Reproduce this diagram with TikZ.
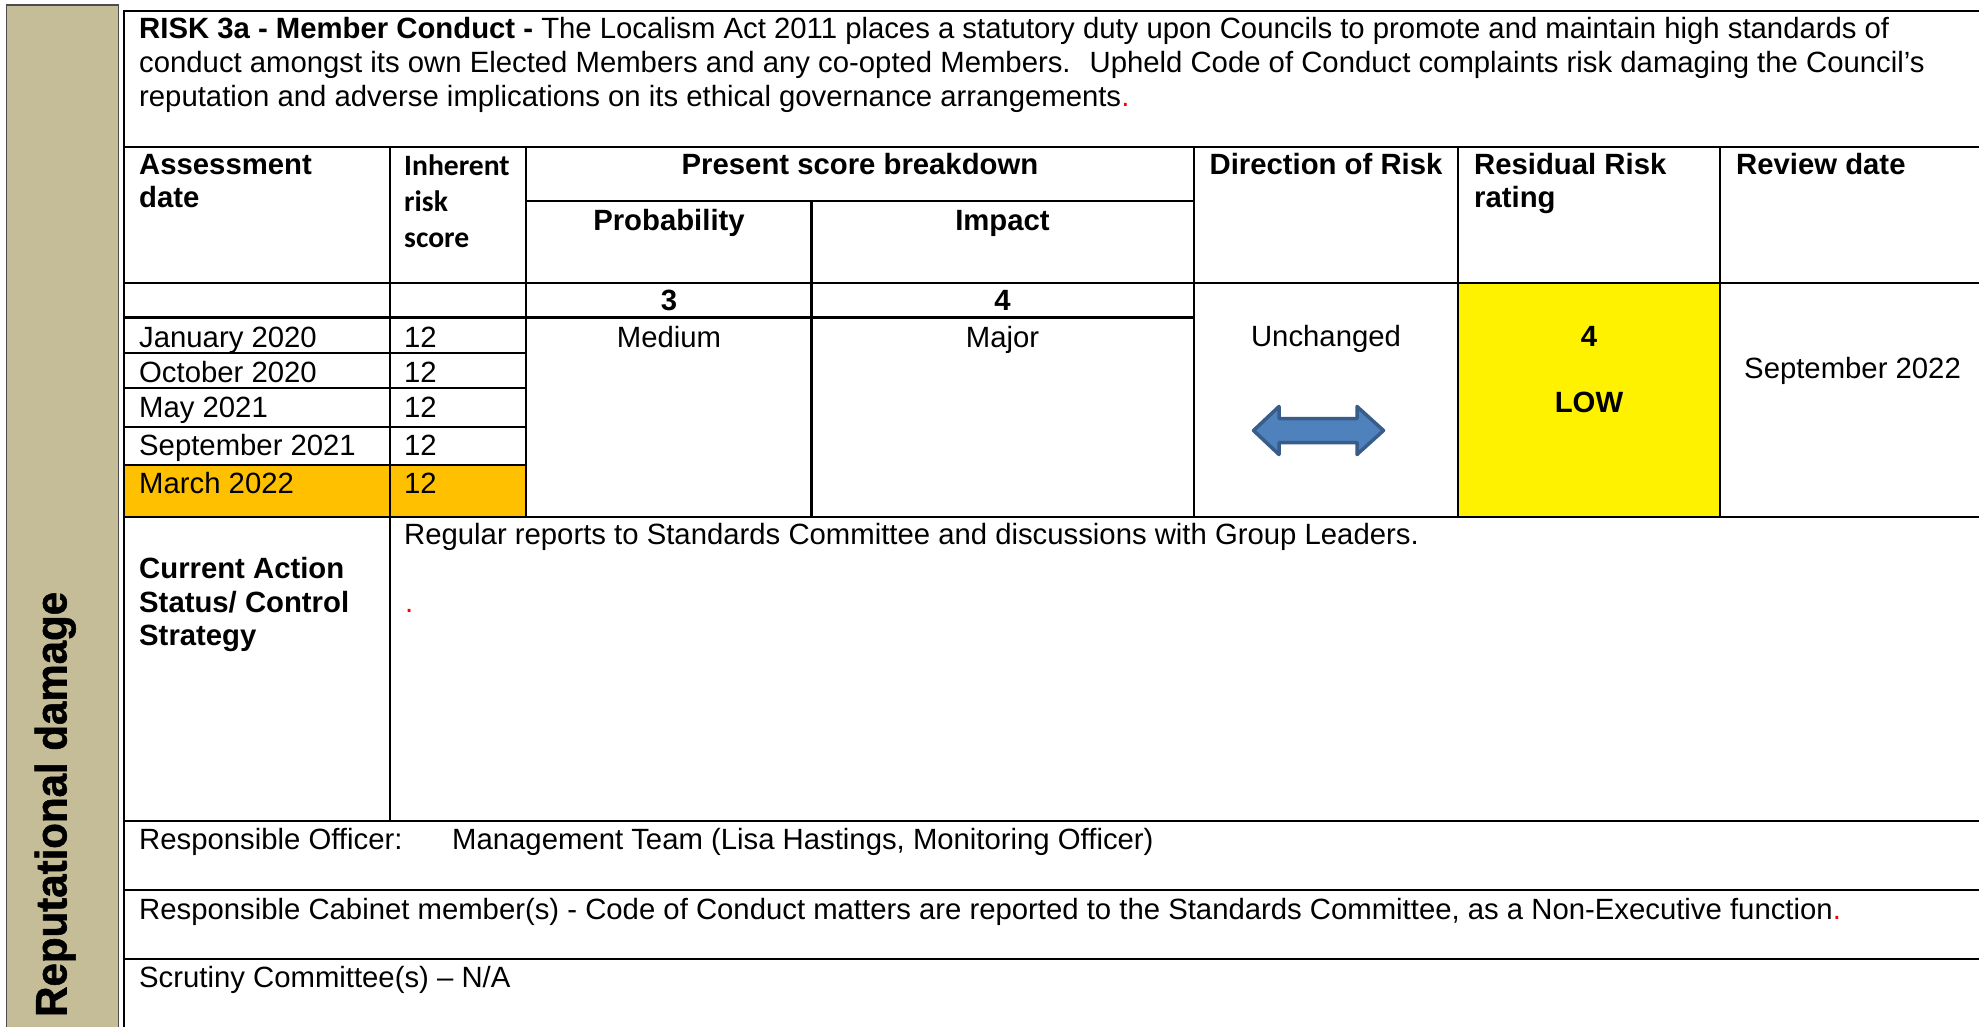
\documentclass[tikz,border=0pt]{standalone}
\usepackage{fontspec}
\setmainfont{Liberation Sans}
\newfontfamily\calib{Carlito}
\newfontfamily\sidefont[FakeBold=1.2]{Liberation Sans Bold}
\definecolor{beige}{HTML}{C4BD97}
\definecolor{orangecell}{HTML}{FFC000}
\definecolor{arrowfill}{HTML}{4F81BD}
\definecolor{arrowline}{HTML}{385D8A}
\definecolor{reddot}{HTML}{FF0000}
\newcommand{\bodysize}{\fontsize{29.3}{35}\selectfont}
\tikzset{
  txt/.style={inner sep=0pt, font=\bodysize},
  lt/.style={txt, anchor=base west},
  ct/.style={txt, anchor=base},
  bld/.style={font=\bfseries\bodysize},
  gridline/.style={line width=2.2pt, black},
  calibtxt/.style={inner sep=0pt, anchor=base west, font=\calib\bfseries\fontsize{29.6}{35}\selectfont},
}
\begin{document}
\begin{tikzpicture}[x=1pt,y=-1pt]
\clip (0,0) rectangle (1979,1026);
\fill[white] (0,0) rectangle (1979,1026);
% side band
\draw[fill=beige, draw=black!70, line width=1.5pt] (6.7,5) rectangle (118.5,1040);
\node[rotate=90, anchor=base west, inner sep=0pt, font=\sidefont\fontsize{44}{48}\selectfont] (side) at (66.5,1017) {\scalebox{0.955}[1]{Reputational damage}};
% cell fills
\fill[orangecell] (124,465) rectangle (526,517);
\fill[yellow] (1458,283) rectangle (1720,517);
% grid
\draw[gridline] (124,1040) -- (124,11) -- (2000,11);
\draw[gridline] (124,147) -- (2000,147);
\draw[gridline] (526,201) -- (1194,201);
\draw[gridline] (124,283) -- (2000,283);
\draw[gridline] (124,317.5) -- (1194,317.5);
\foreach \yy in {353,388,427,465} \draw[gridline] (124,\yy) -- (526,\yy);
\draw[gridline] (124,517) -- (2000,517);
\draw[gridline] (124,821) -- (2000,821);
\draw[gridline] (124,890) -- (2000,890);
\draw[gridline] (124,959) -- (2000,959);
\draw[gridline] (390,147) -- (390,821);
\draw[gridline] (526,147) -- (526,517);
\draw[gridline] (811.5,201) -- (811.5,517);
\draw[gridline] (1194,147) -- (1194,517);
\draw[gridline] (1458,147) -- (1458,517);
\draw[gridline] (1720,147) -- (1720,517);
% title
\node[lt] (t1) at (139,38) {\textbf{RISK 3a - Member Conduct -} The Localism Act 2011 places a statutory duty upon Councils to promote and maintain high standards of};
\node[lt] (t2) at (139,72) {conduct amongst its own Elected Members and any co-opted Members.~ Upheld Code of Conduct complaints risk damaging the Council’s};
\node[lt] (t3) at (139,106) {reputation and adverse implications on its ethical governance arrangements{\color{reddot}.}};
% header
\node[lt, bld] (h1a) at (139,174) {Assessment};
\node[lt, bld] (h1b) at (139,207) {date};
\node[calibtxt] (h2a) at (404,175) {Inherent};
\node[calibtxt] (h2b) at (404,211) {risk};
\node[calibtxt] (h2c) at (404,247) {score};
\node[ct, bld] (h3) at (860,174) {Present score breakdown};
\node[ct, bld] (h3a) at (669,230) {Probability};
\node[ct, bld] (h3b) at (1002.5,230) {Impact};
\node[ct, bld] (h4) at (1326,174) {Direction of Risk};
\node[lt, bld] (h5a) at (1474,174) {Residual Risk};
\node[lt, bld] (h5b) at (1474,207) {rating};
\node[lt, bld] (h6) at (1736,174) {Review date};
% score row
\node[ct, bld] (s3) at (669,310) {3};
\node[ct, bld] (s4) at (1002.5,310) {4};
% data rows
\node[lt] (d1) at (139,347) {January 2020};
\node[lt] (d2) at (139,382) {October 2020};
\node[lt] (d3) at (139,417) {May 2021};
\node[lt] (d4) at (139,455.5) {September 2021};
\node[lt] (d5) at (139,493.5) {March 2022};
\node[lt] (r1) at (404,347) {12};
\node[lt] (r2) at (404,382) {12};
\node[lt] (r3) at (404,417) {12};
\node[lt] (r4) at (404,455.5) {12};
\node[lt] (r5) at (404,493.5) {12};
\node[ct] (med) at (669,347) {Medium};
\node[ct] (maj) at (1002.5,347) {Major};
\node[ct] (unch) at (1326,346) {Unchanged};
\node[ct, bld] (res4) at (1589,346) {4};
\node[ct, bld] (low) at (1589,412.5) {LOW};
\node[lt] (rev) at (1744,378.5) {September 2022};
% arrow
\draw[fill=arrowfill, draw=arrowline, line width=3.5pt, line join=round]
  (1253.5,430.5) -- (1279,406.5) -- (1279,418.5) -- (1357,418.5) -- (1357,406.5)
  -- (1383.5,430.5) -- (1357,454.5) -- (1357,442.5) -- (1279,442.5) -- (1279,454.5) -- cycle;
% current action
\node[lt, bld] (ca1) at (139,578) {Current Action};
\node[lt, bld] (ca2) at (139,612) {Status/ Control};
\node[lt, bld] (ca3) at (139,645) {Strategy};
\node[lt] (reg) at (404,544) {Regular reports to Standards Committee and discussions with Group Leaders.};
\node[lt, text=reddot] (dot) at (405,612) {.};
% bottom rows
\node[lt] (ro) at (139,849) {Responsible Officer:};
\node[lt] (mt) at (452,849) {Management Team (Lisa Hastings, Monitoring Officer)};
\node[lt] (cab) at (139,919) {Responsible Cabinet member(s) - Code of Conduct matters are reported to the Standards Committee, as a Non-Executive function{\color{reddot}.}};
\node[lt] (scr) at (139,987) {Scrutiny Committee(s) – N/A};
\end{tikzpicture}
\end{document}
